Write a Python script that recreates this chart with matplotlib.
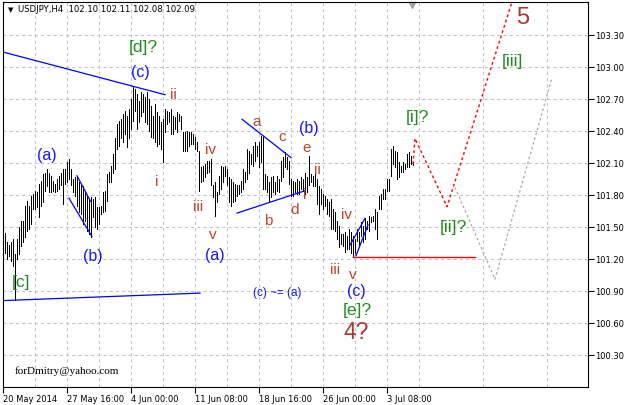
import matplotlib
matplotlib.use("Agg")
import matplotlib.pyplot as plt

# USDJPY H4 - high / low of every bar (oldest first)
highs = [
    101.44, 101.36, 101.33, 101.36, 101.39, 101.25, 101.39, 101.50, 101.56, 101.56,
    101.70, 101.74, 101.70, 101.79, 101.81, 101.84, 101.83, 101.90, 101.93, 102.00,
    102.01, 102.04, 102.01, 101.98, 101.93, 101.90, 101.95, 101.98, 102.01, 102.04,
    102.04, 102.11, 102.14, 102.04, 101.95, 101.97, 101.97, 101.92, 101.89, 101.88,
    101.83, 101.79, 101.76, 101.78, 101.76, 101.78, 101.69, 101.69, 101.70, 101.83,
    101.84, 102.00, 102.02, 102.07, 102.18, 102.33, 102.47, 102.49, 102.51, 102.56,
    102.59, 102.54, 102.61, 102.70,
    102.81, 102.79, 102.75, 102.68, 102.77, 102.75, 102.72, 102.77, 102.70, 102.63,
    102.54, 102.65, 102.58, 102.54, 102.48, 102.51, 102.61, 102.59, 102.58, 102.61,
    102.54, 102.53, 102.58, 102.56, 102.54, 102.39, 102.39, 102.40, 102.39, 102.39,
    102.37, 102.34, 102.30, 102.21, 102.06, 102.07, 102.09, 102.12, 102.12, 102.14,
    101.89, 101.92, 101.83, 101.98, 102.07, 102.06, 102.07, 102.04, 101.97, 101.95,
    101.92, 101.90, 101.89, 101.89, 101.93, 102.04, 102.02, 102.23, 102.21, 102.18,
    102.26, 102.30, 102.26, 102.30, 102.35, 102.34, 102.00, 101.98, 101.92, 101.97,
    101.98, 101.92, 101.98, 101.95,
    102.12, 102.16, 102.20, 102.16, 102.12, 101.95, 101.93, 101.92, 101.95, 101.93,
    101.97, 101.95, 102.01, 101.97, 102.17, 102.00, 101.98, 102.00, 101.95, 101.88,
    101.86, 101.81, 101.79, 101.76, 101.73, 101.76, 101.67, 101.64, 101.56, 101.51,
    101.43, 101.43, 101.45, 101.42, 101.48, 101.45, 101.42, 101.39, 101.48, 101.45,
    101.55, 101.51, 101.58, 101.56, 101.60, 101.59, 101.60, 101.67, 101.64, 101.79,
    101.81, 101.86, 101.86, 101.95, 101.95, 102.23, 102.26, 102.21, 102.20, 102.11,
    102.07, 102.11, 102.09, 102.18, 102.20, 102.17, 102.11,
]
lows = [
    101.26, 101.20, 101.23, 101.18, 101.13, 100.82, 101.20, 101.25, 101.32, 101.36,
    101.41, 101.46, 101.48, 101.53, 101.67, 101.67, 101.69, 101.59, 101.70, 101.73,
    101.84, 101.88, 101.83, 101.83, 101.84, 101.83, 101.84, 101.86, 101.89, 101.72,
    101.90, 101.92, 101.95, 101.89, 101.83, 101.79, 101.70, 101.64, 101.62, 101.53,
    101.56, 101.46, 101.43, 101.41, 101.59, 101.50, 101.48, 101.53, 101.62, 101.64,
    101.65, 101.74, 101.92, 101.92, 102.01, 102.04, 102.23, 102.26, 102.33, 102.30,
    102.37, 102.25, 102.33, 102.42,
    102.49, 102.59, 102.42, 102.48, 102.54, 102.58, 102.48, 102.47, 102.40, 102.34,
    102.33, 102.30, 102.26, 102.28, 102.23, 102.11, 102.39, 102.47, 102.48, 102.37,
    102.37, 102.42, 102.39, 102.49, 102.42, 102.21, 102.21, 102.21, 102.26, 102.28,
    102.28, 102.23, 102.21, 101.84, 101.92, 101.93, 101.97, 102.01, 102.02, 101.89,
    101.78, 101.60, 101.73, 101.81, 101.86, 101.92, 101.98, 101.89, 101.73, 101.70,
    101.73, 101.74, 101.79, 101.81, 101.83, 101.86, 101.92, 101.95, 102.01, 102.09,
    102.07, 102.12, 102.17, 102.06, 102.11, 101.86, 101.86, 101.83, 101.73, 101.78,
    101.83, 101.81, 101.84, 101.83,
    101.93, 101.97, 102.06, 102.04, 101.90, 101.79, 101.79, 101.83, 101.81, 101.81,
    101.86, 101.84, 101.81, 101.83, 101.89, 101.92, 101.88, 101.88, 101.72, 101.62,
    101.72, 101.67, 101.70, 101.62, 101.60, 101.48, 101.48, 101.46, 101.39, 101.31,
    101.34, 101.32, 101.27, 101.29, 101.29, 101.26, 101.22, 101.26, 101.37, 101.32,
    101.42, 101.36, 101.39, 101.48, 101.46, 101.55, 101.56, 101.48, 101.39, 101.67,
    101.67, 101.76, 101.76, 101.84, 101.84, 101.98, 102.09, 102.06, 101.95, 101.97,
    102.02, 102.02, 102.04, 102.06, 102.06, 102.09, 102.08,
]
bar_idx = list(range(len(highs)))

# axis labels
date_ticks = [-1, 31, 63, 95, 127, 159, 191]
date_labels = ["20 May 2014", "27 May 16:00", "4 Jun 00:00", "11 Jun 08:00",
               "18 Jun 16:00", "26 Jun 00:00", "3 Jul 08:00"]
price_ticks = [100.30, 100.60, 100.90, 101.20, 101.50, 101.80,
               102.10, 102.40, 102.70, 103.00, 103.30]

# hand drawn trend lines (bar index, price)
blue_lines = [
    [(-1, 103.14), (80, 102.74)],
    [(-1, 100.81), (97.5, 100.88)],
    [(36, 101.98), (42.8, 101.74)],
    [(32, 101.77), (43.5, 101.41)],
    [(118.5, 102.51), (143, 102.15)],
    [(116, 101.63), (150, 101.84)],
    [(172.5, 101.33), (180, 101.58)],
    [(175.5, 101.23), (181.5, 101.52)],
]
support_line = [(174, 101.22), (235, 101.22)]
# projected paths
red_path_x = [204, 205, 221, 254]
red_path_y = [102.09, 102.33, 101.69, 103.64]
gray_path_x = [225, 245, 273.5]
gray_path_y = [101.87, 101.01, 102.90]

BLUE = "#1515ff"
GREEN = "#1f8a1f"
BROWN = "#b8452e"
DARK = "#a83636"

# wave labels: text, bar index, price, colour, size
labels = [
    ("[d]?", 69, 103.19, GREEN, 12.5),
    ("(c)", 67.5, 102.96, BLUE, 11.5),
    ("ii", 84, 102.75, BROWN, 11),
    ("(a)", 21, 102.18, BLUE, 11.5),
    ("(b)", 44, 101.23, BLUE, 11.5),
    ("i", 76, 101.93, BROWN, 11),
    ("iv", 103, 102.23, BROWN, 11),
    ("iii", 96.5, 101.70, BROWN, 11),
    ("v", 104, 101.43, BROWN, 11),
    ("(a)", 105, 101.24, BLUE, 11.5),
    ("a", 126, 102.49, BROWN, 11),
    ("b", 131.5, 101.57, BROWN, 11),
    ("c", 138.5, 102.35, BROWN, 11),
    ("d", 145, 101.67, BROWN, 11),
    ("e", 151, 102.25, BROWN, 11),
    ("(b)", 152, 102.43, BLUE, 11.5),
    ("ii", 156, 102.04, BROWN, 11),
    ("i", 150, 101.81, BROWN, 11),
    ("iv", 171, 101.62, BROWN, 11),
    ("iii", 165, 101.11, BROWN, 11),
    ("v", 174, 101.06, BROWN, 11),
    ("(c)", 175.5, 100.90, BLUE, 11.5),
    ("[e]?", 176, 100.73, GREEN, 12.5),
    ("4?", 175.5, 100.52, DARK, 16.5),
    ("(c) ~= (a)", 136, 100.89, BLUE, 8.5),
    ("[c]", 8, 100.99, GREEN, 12.5),
    ("[i]?", 206, 102.54, GREEN, 12.5),
    ("[ii]?", 224, 101.50, GREEN, 12.5),
    ("[iii]", 253.5, 103.06, GREEN, 12.5),
    ("5", 259, 103.47, DARK, 17),
]

fig = plt.figure(figsize=(6.27, 4.06), dpi=100)
ax = fig.add_axes([3 / 627, 18 / 406, 585 / 627, 385 / 406])

# plain high-low bars, crisp 1px like the terminal draws them
ax.vlines(bar_idx, lows, highs, color="black", linewidth=0.5, antialiased=False)

for (x0, y0), (x1, y1) in blue_lines:
    ax.plot([x0, x1], [y0, y1], color="#0000ff", linewidth=0.9)
ax.plot([p[0] for p in support_line], [p[1] for p in support_line],
        color="red", linewidth=1)
ax.plot(red_path_x, red_path_y, color="red", linewidth=1, linestyle=(0, (2, 2)))
ax.plot(gray_path_x, gray_path_y, color="#a8a8a8", linewidth=0.9,
        linestyle=(0, (2, 2)))

for txt, x, y, c, s in labels:
    ax.text(x, y, txt, color=c, fontsize=s, ha="center", va="center",
            family="Liberation Sans")
ax.text(5, 100.16, "forDmitry@yahoo.com", fontsize=8, family="Liberation Serif",
        ha="left", va="center", color="black")

ax.set_xlim(-1, 291.5)
ax.set_ylim(100.0, 103.609)

ax.set_xticks(date_ticks)
ax.set_xticklabels(date_labels, ha="left", fontsize=6)
ax.set_xticks(list(range(15, 292, 32)), minor=True)
ax.tick_params(axis="x", which="major", direction="out", length=4, pad=1)
ax.tick_params(axis="x", which="minor", length=0)

ax.yaxis.tick_right()
ax.set_yticks(price_ticks)
ax.set_yticklabels([f"{p:.2f}" for p in price_ticks], fontsize=6)
ax.tick_params(axis="y", direction="out", length=4, pad=1)

ax.grid(True, which="both", color="#c0c0c0", linestyle=(0, (3, 3)), linewidth=0.75)
ax.set_axisbelow(True)
for sp in ax.spines.values():
    sp.set_linewidth(0.8)
    sp.set_color("black")

# chart shift marker and title
ax.plot([203.5], [103.58], marker="v", color="#a0a0a0", markersize=5, clip_on=False)
fig.text(8 / 627, 1 - 10 / 406, "\u25bc", fontsize=5, va="center", ha="left")
fig.text(18 / 627, 1 - 10 / 406, "USDJPY,H4  102.10 102.11 102.08 102.09",
         fontsize=6.1, va="center", ha="left")

fig.savefig("out.png", dpi=100)
